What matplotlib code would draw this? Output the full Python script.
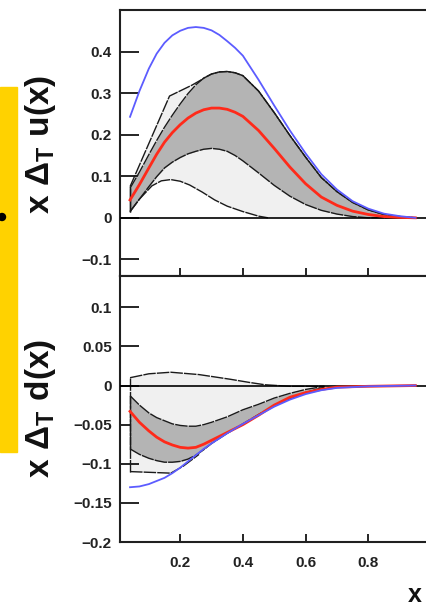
"""
Transversity x*Delta_T q(x) for u and d quarks: fit, uncertainty bands and Soffer bound.
"""
import numpy as np
import matplotlib.pyplot as plt
from matplotlib.patches import Rectangle, Ellipse

plt.rcParams['font.family'] = ['Liberation Sans', 'DejaVu Sans']
plt.rcParams['font.weight'] = 'bold'
plt.rcParams['mathtext.fontset'] = 'custom'
plt.rcParams['mathtext.rm'] = 'Liberation Sans:bold'
plt.rcParams['mathtext.bf'] = 'Liberation Sans:bold'
plt.rcParams['mathtext.it'] = 'Liberation Sans:bold'

# ---- u quark ----
U_X = [0.04, 0.07, 0.10, 0.125, 0.15, 0.175, 0.20, 0.225, 0.25, 0.275, 0.30, 0.325,
       0.35, 0.375, 0.40, 0.45, 0.50, 0.55, 0.60, 0.65, 0.70, 0.75, 0.80, 0.85,
       0.90, 0.95]
U_SOFFER = [0.243, 0.305, 0.359, 0.395, 0.421, 0.439, 0.450, 0.457, 0.459, 0.457,
            0.451, 0.440, 0.425, 0.409, 0.390, 0.332, 0.270, 0.210, 0.155, 0.105,
            0.068, 0.040, 0.022, 0.010, 0.004, 0.0]
U_FIT = [0.043, 0.080, 0.120, 0.153, 0.182, 0.205, 0.224, 0.240, 0.252, 0.260,
         0.264, 0.264, 0.261, 0.254, 0.244, 0.210, 0.167, 0.122, 0.082, 0.050,
         0.030, 0.016, 0.008, 0.003, 0.001, 0.0]
U_BAND_HI = [0.071, 0.110, 0.152, 0.186, 0.218, 0.247, 0.274, 0.299, 0.320, 0.336,
             0.346, 0.351, 0.352, 0.349, 0.342, 0.305, 0.253, 0.198, 0.146, 0.097,
             0.063, 0.037, 0.019, 0.008, 0.003, 0.0]
U_BAND_LO = [0.015, 0.045, 0.075, 0.099, 0.120, 0.134, 0.145, 0.154, 0.160, 0.165,
             0.167, 0.165, 0.160, 0.150, 0.137, 0.108, 0.078, 0.052, 0.032, 0.018,
             0.009, 0.003, 0.0, 0.0, 0.0, 0.0]
# outer (light) envelope
U_OUT_HI_X = [0.04, 0.166, 0.237, 0.265]
U_OUT_HI = [0.075, 0.293, 0.319, 0.331]
U_OUT_LO_X = [0.04, 0.07, 0.11, 0.14, 0.17, 0.20, 0.23, 0.27, 0.31, 0.35, 0.40,
              0.45, 0.48]
U_OUT_LO = [0.015, 0.045, 0.077, 0.089, 0.092, 0.088, 0.079, 0.062, 0.043, 0.028,
            0.015, 0.004, 0.0]

# ---- d quark ----
D_X = [0.04, 0.07, 0.10, 0.125, 0.15, 0.175, 0.20, 0.225, 0.25, 0.275, 0.30, 0.35,
       0.40, 0.45, 0.50, 0.55, 0.60, 0.65, 0.70, 0.80, 0.95]
D_SOFFER = [-0.130, -0.129, -0.126, -0.122, -0.118, -0.112, -0.105, -0.097, -0.089,
            -0.081, -0.074, -0.061, -0.049, -0.038, -0.027, -0.018, -0.011, -0.006,
            -0.003, -0.001, 0.0]
D_FIT = [-0.033, -0.047, -0.058, -0.066, -0.072, -0.076, -0.079, -0.080, -0.079,
         -0.075, -0.070, -0.060, -0.050, -0.038, -0.025, -0.015, -0.009, -0.005,
         -0.002, -0.001, 0.0]
D_BAND_X = [0.04, 0.07, 0.10, 0.125, 0.15, 0.175, 0.20, 0.225, 0.25, 0.275, 0.30,
            0.35, 0.40, 0.45, 0.50, 0.55, 0.60, 0.66]
D_BAND_HI = [-0.013, -0.025, -0.035, -0.041, -0.045, -0.049, -0.051, -0.052, -0.052,
             -0.050, -0.047, -0.040, -0.031, -0.024, -0.016, -0.010, -0.005, -0.001]
D_BAND_LO = [-0.081, -0.088, -0.093, -0.096, -0.098, -0.098, -0.097, -0.094, -0.089,
             -0.082, -0.074, -0.061, -0.049, -0.037, -0.026, -0.017, -0.009, -0.002]
D_OUT_HI_X = [0.04, 0.10, 0.17, 0.20, 0.26, 0.31, 0.36, 0.42, 0.47, 0.55, 0.66]
D_OUT_HI = [0.010, 0.015, 0.017, 0.016, 0.014, 0.011, 0.008, 0.004, 0.001, -0.001,
            -0.001]
D_OUT_LO_X = [0.04, 0.17, 0.21, 0.26]
D_OUT_LO = [-0.110, -0.112, -0.103, -0.088]

U_YTICKS = [-0.1, 0, 0.1, 0.2, 0.3, 0.4]
U_YLABELS = ['\u22120.1', '0', '0.1', '0.2', '0.3', '0.4']
D_YTICKS = [-0.2, -0.15, -0.1, -0.05, 0, 0.05, 0.1]
D_YLABELS = ['\u22120.2', '\u22120.15', '\u22120.1', '\u22120.05', '0', '0.05', '0.1']
XTICKS = [0.2, 0.4, 0.6, 0.8, 1.0]
XLABELS = ['0.2', '0.4', '0.6', '0.8', '1']

LIGHT = '#f0f0f0'
DARK = '#b4b4b4'
EDGE = dict(color='#1a1a1a', lw=1.0, ls=(0, (9, 0.8)))


def draw_panel(ax, x, soffer, fit, bx, bhi, blo, ohx, ohi, olx, olo, cut):
    # light outer envelope: its own edge, then continued along the dark band
    bx_a, bhi_a, blo_a = np.array(bx), np.array(bhi), np.array(blo)
    up_x = list(ohx) + list(bx_a[bx_a > cut[0]])
    up_y = list(ohi) + list(bhi_a[bx_a > cut[0]])
    lo_x = list(olx) + list(bx_a[bx_a > cut[1]])
    lo_y = list(olo) + list(blo_a[bx_a > cut[1]])
    ax.fill(up_x + lo_x[::-1], up_y + lo_y[::-1], color=LIGHT, zorder=1, lw=0)
    ax.plot(up_x, up_y, **EDGE, zorder=3)
    ax.plot(olx, olo, **EDGE, zorder=3)
    ax.plot([olx[0], ohx[0]], [olo[0], ohi[0]], **EDGE, zorder=3)

    ax.fill_between(bx, blo, bhi, color=DARK, zorder=2, lw=0)
    ax.plot(bx, bhi, **EDGE, zorder=3)
    ax.plot(bx, blo, **EDGE, zorder=3)
    ax.plot([bx[0], bx[0]], [blo[0], bhi[0]], **EDGE, zorder=3)

    ax.axhline(0, color='black', lw=1.2, zorder=4)
    ax.plot(x, fit, color='#ff2a1a', lw=2.0, zorder=5)
    ax.plot(x, soffer, color='#5c5cff', lw=1.3, zorder=6)

    ax.set_xlim(0.008, 1.0)
    ax.set_xticks(XTICKS)
    ax.tick_params(axis='x', direction='in', length=6, width=1.2, pad=10,
                   labelsize=11)
    ax.tick_params(axis='y', direction='in', length=14, width=1.2, pad=6,
                   labelsize=11)
    for s in ax.spines.values():
        s.set_linewidth(1.5)
        s.set_color('#202020')


fig = plt.figure(figsize=(4.26, 6.06), dpi=100)
W, H = 426, 606
left = 120 / W
width = 311 / W

ax_u = fig.add_axes([left, 1 - 276 / H, width, 266 / H])
draw_panel(ax_u, U_X, U_SOFFER, U_FIT, U_X, U_BAND_HI, U_BAND_LO,
           U_OUT_HI_X, U_OUT_HI, U_OUT_LO_X, U_OUT_LO, (0.265, 0.79))
ax_u.set_ylim(-0.14, 0.5)
ax_u.set_yticks(U_YTICKS)
ax_u.set_yticklabels(U_YLABELS)
ax_u.set_xticklabels([])

ax_d = fig.add_axes([left, 1 - 542 / H, width, 266 / H])
draw_panel(ax_d, D_X, D_SOFFER, D_FIT, D_BAND_X, D_BAND_HI, D_BAND_LO,
           D_OUT_HI_X, D_OUT_HI, D_OUT_LO_X, D_OUT_LO, (0.66, 0.26))
ax_d.set_ylim(-0.2, 0.14)
ax_d.set_yticks(D_YTICKS)
ax_d.set_yticklabels(D_YLABELS)
ax_d.set_xticklabels(XLABELS)

for lab in ax_u.get_yticklabels() + ax_d.get_yticklabels() + ax_d.get_xticklabels():
    lab.set_fontweight('bold')
    lab.set_color('#222222')

fig.text(41 / W, 1 - 144 / H, r'$\mathbf{x\ \Delta_{T}\ u(x)}$', rotation=90,
         ha='center', va='center', fontsize=24, color='#111111')
fig.text(40 / W, 1 - 408 / H, r'$\mathbf{x\ \Delta_{T}\ d(x)}$', rotation=90,
         ha='center', va='center', fontsize=24, color='#111111')
fig.text(415 / W, 1 - 595 / H, 'x', ha='center', va='center', fontsize=18,
         fontweight='bold', color='#111111')

# yellow side tab
fig.patches.append(Rectangle((0, 1 - 452 / H), 17 / W, 365 / H,
                             transform=fig.transFigure, color='#ffd200', zorder=0))
fig.patches.append(Ellipse((2 / W, 1 - 217 / H), 7 / W, 7 / H,
                           transform=fig.transFigure, color='black', zorder=1))

fig.savefig('out.png', dpi=100)
